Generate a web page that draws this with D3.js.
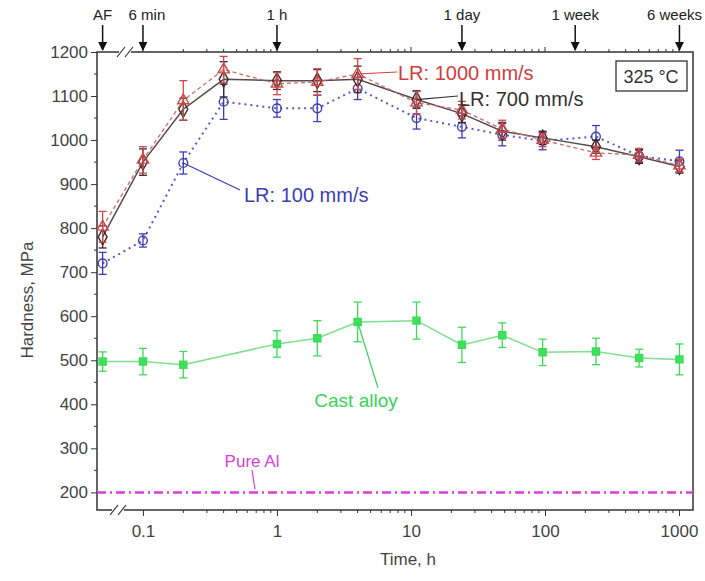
<!DOCTYPE html>
<html>
<head>
<meta charset="utf-8">
<script src="https://cdn.jsdelivr.net/npm/d3@7"></script>
<style>
  body { margin: 0; background: #fff; }
  svg { font-family: "Liberation Sans", Arial, sans-serif; }
</style>
</head>
<body>
<svg id="chart" width="705" height="581"></svg>
<script>
// time in hours; AF (as-fabricated) is drawn at 0.05 h, inside the axis break
const times = [0.05, 0.1, 0.2, 0.4, 1, 2, 4, 11, 24, 48, 96, 240, 504, 1008];
const castTimes = [0.05, 0.1, 0.2, 1, 2, 4, 11, 24, 48, 96, 240, 504, 1008];

const lr1000 = [803, 955, 1090, 1160, 1128, 1132, 1150, 1085, 1068, 1025, 1000, 971, 966, 942];
const lr1000Err = [35, 30, 45, 30, 25, 30, 35, 25, 20, 20, 15, 15, 15, 15];
const lr700 = [780, 950, 1070, 1138, 1135, 1135, 1138, 1092, 1060, 1020, 1005, 985, 962, 940];
const lr700Err = [25, 30, 25, 40, 20, 25, 30, 20, 20, 20, 15, 15, 15, 15];
const lr100 = [720, 772, 948, 1087, 1072, 1072, 1117, 1050, 1030, 1012, 998, 1008, 964, 952];
const lr100Err = [25, 15, 25, 40, 20, 30, 25, 25, 25, 25, 20, 25, 15, 25];
const cast = [497, 497, 490, 537, 550, 587, 590, 535, 557, 518, 520, 505, 502];
const castErr = [22, 30, 30, 30, 40, 45, 42, 40, 28, 30, 30, 20, 35];
const pureAl = 200;

const xTicks = [0.1, 1, 10, 100, 1000];
const yTicks = [200, 300, 400, 500, 600, 700, 800, 900, 1000, 1100, 1200];
const topMarks = [
  { t: 0.05, label: "AF" },
  { t: 0.1, label: "6 min" },
  { t: 1, label: "1 h" },
  { t: 24, label: "1 day" },
  { t: 168, label: "1 week" },
  { t: 1008, label: "6 weeks" }
];

const svg = d3.select("#chart");
const pLeft = 97, pRight = 693, pTop = 52, pBottom = 510;

const x = d3.scaleLog().domain([0.0454, 1272]).range([pLeft, pRight]);
const y = d3.scaleLinear().domain([160, 1200]).range([pBottom, pTop]);

// arrow head
svg.append("defs").append("marker")
  .attr("id", "arr")
  .attr("viewBox", "0 0 10 10")
  .attr("refX", 9).attr("refY", 5)
  .attr("markerWidth", 6).attr("markerHeight", 6)
  .attr("orient", "auto")
  .append("path").attr("d", "M0,0 L10,5 L0,10 z").attr("fill", "#111");

// minor log ticks from 0.1 to the right edge
const minor = [];
for (let d = 0.1; d <= 1000; d *= 10) {
  for (let k = 2; k <= 9; k++) {
    const v = d * k;
    if (v <= x.domain()[1]) minor.push(v);
  }
}

// bottom axis
const xAxis = d3.axisBottom(x).tickValues(xTicks).tickSize(6)
  .tickFormat(d => d < 1 ? "0.1" : d3.format("d")(d));
svg.append("g").attr("transform", `translate(0,${pBottom})`).call(xAxis)
  .call(g => g.select(".domain").remove())
  .call(g => g.selectAll("text").attr("font-size", 17).attr("fill", "#444").attr("dy", "1.05em"))
  .call(g => g.selectAll("line").attr("stroke", "#333"));
svg.append("g").selectAll("line").data(minor).join("line")
  .attr("x1", d => x(d)).attr("x2", d => x(d))
  .attr("y1", pBottom).attr("y2", pBottom + 3)
  .attr("stroke", "#333");

// top axis ticks (outward, no labels)
svg.append("g").selectAll("line").data(xTicks.concat(minor)).join("line")
  .attr("x1", d => x(d)).attr("x2", d => x(d))
  .attr("y1", pTop).attr("y2", d => xTicks.includes(d) ? pTop - 5 : pTop - 3)
  .attr("stroke", "#333");

// left axis
const yAxis = d3.axisLeft(y).tickValues(yTicks).tickSize(6).tickFormat(d3.format("d"));
svg.append("g").attr("transform", `translate(${pLeft},0)`).call(yAxis)
  .call(g => g.select(".domain").remove())
  .call(g => g.selectAll("text").attr("font-size", 17).attr("fill", "#444"))
  .call(g => g.selectAll("line").attr("stroke", "#333"));
svg.append("g").selectAll("line").data(d3.range(250, 1200, 100)).join("line")
  .attr("x1", pLeft - 3).attr("x2", pLeft)
  .attr("y1", d => y(d)).attr("y2", d => y(d))
  .attr("stroke", "#333");

// frame
svg.append("rect")
  .attr("x", pLeft).attr("y", pTop)
  .attr("width", pRight - pLeft).attr("height", pBottom - pTop)
  .attr("fill", "none").attr("stroke", "#333").attr("stroke-width", 1.5);

// axis breaks
function axisBreak(cx, cy) {
  const g = svg.append("g");
  g.append("rect").attr("x", cx - 6).attr("y", cy - 2).attr("width", 12).attr("height", 4).attr("fill", "#fff");
  [-4, 4].forEach(o => {
    g.append("line")
      .attr("x1", cx + o - 4).attr("y1", cy + 5)
      .attr("x2", cx + o + 4).attr("y2", cy - 5)
      .attr("stroke", "#333").attr("stroke-width", 1.2);
  });
}
axisBreak(125, pTop);
axisBreak(118, pBottom);

// pure Al reference line
svg.append("line")
  .attr("x1", pLeft).attr("x2", pRight)
  .attr("y1", y(pureAl)).attr("y2", y(pureAl))
  .attr("stroke", "#d63fd6").attr("stroke-width", 2.5)
  .attr("stroke-dasharray", "9,4,2,4");

function series(ts, vals, errs, opt) {
  const pts = ts.map((t, i) => ({ t: t, v: vals[i], e: errs[i] }));
  const g = svg.append("g");
  g.append("path").datum(pts)
    .attr("d", d3.line().x(d => x(d.t)).y(d => y(d.v)))
    .attr("fill", "none").attr("stroke", opt.line)
    .attr("stroke-width", opt.lw || 1.5)
    .attr("stroke-dasharray", opt.dash || null);
  const eb = g.selectAll("g.eb").data(pts).join("g").attr("stroke", opt.color).attr("stroke-width", 1.3);
  eb.append("line").attr("x1", d => x(d.t)).attr("x2", d => x(d.t))
    .attr("y1", d => y(d.v - d.e)).attr("y2", d => y(d.v + d.e));
  eb.append("line").attr("x1", d => x(d.t) - 4).attr("x2", d => x(d.t) + 4)
    .attr("y1", d => y(d.v + d.e)).attr("y2", d => y(d.v + d.e));
  eb.append("line").attr("x1", d => x(d.t) - 4).attr("x2", d => x(d.t) + 4)
    .attr("y1", d => y(d.v - d.e)).attr("y2", d => y(d.v - d.e));
  g.selectAll("path.m").data(pts).join("path")
    .attr("class", "m")
    .attr("transform", d => `translate(${x(d.t)},${y(d.v)})`)
    .attr("d", d3.symbol().type(opt.symbol).size(opt.size))
    .attr("fill", opt.fill).attr("stroke", opt.color).attr("stroke-width", 1.4);
}

series(times, lr100, lr100Err, { color: "#3d3db5", line: "#5a5ac0", dash: "2,4", lw: 2, symbol: d3.symbolCircle, size: 60, fill: "none" });
series(times, lr700, lr700Err, { color: "#3a2a2a", line: "#5a4a4a", symbol: d3.symbolDiamond, size: 70, fill: "none" });
series(times, lr1000, lr1000Err, { color: "#d04848", line: "#c07070", dash: "4,3", lw: 1.3, symbol: d3.symbolTriangle, size: 55, fill: "none" });
series(castTimes, cast, castErr, { color: "#3fd95a", line: "#7fe08e", symbol: d3.symbolSquare, size: 50, fill: "#3fe05c" });

// annotations with leader lines
function note(px, py, lx, ly, text, tx, ty, color, size, anchor) {
  svg.append("line").attr("x1", px).attr("y1", py).attr("x2", lx).attr("y2", ly)
    .attr("stroke", color).attr("stroke-width", 1.2);
  svg.append("text").attr("x", tx).attr("y", ty).attr("fill", color)
    .attr("font-size", size).attr("text-anchor", anchor || "start").text(text);
}
note(x(4), y(lr1000[6]), 397, 72, "LR: 1000 mm/s", 398, 80, "#d04040", 20);
note(x(11), y(lr700[7]), 458, 96, "LR: 700 mm/s", 459, 106, "#333", 20);
note(x(0.2), y(lr100[2]), 240, 190, "LR: 100 mm/s", 244, 202, "#3d3db5", 20);
note(x(4), y(cast[5]), 378, 388, "Cast alloy", 356, 407, "#3ad356", 19, "middle");
note(255, y(pureAl) - 3, 252, 470, "Pure Al", 252, 467, "#d63fd6", 17, "middle");

// temperature box
svg.append("rect").attr("x", 616).attr("y", 61).attr("width", 71).attr("height", 30)
  .attr("fill", "#fff").attr("stroke", "#333").attr("stroke-width", 1.3);
svg.append("text").attr("x", 651).attr("y", 83).attr("text-anchor", "middle")
  .attr("font-size", 18).attr("fill", "#333").text("325 °C");

// top time markers
const tm = svg.append("g").selectAll("g").data(topMarks).join("g");
tm.append("line")
  .attr("x1", d => x(d.t)).attr("x2", d => x(d.t))
  .attr("y1", 25).attr("y2", pTop - 2)
  .attr("stroke", "#111").attr("stroke-width", 1.5)
  .attr("marker-end", "url(#arr)");
tm.append("text")
  .attr("x", d => d.label === "6 min" ? x(d.t) + 4 : d.label === "6 weeks" ? 702 : x(d.t))
  .attr("y", 20)
  .attr("text-anchor", d => d.label === "6 weeks" ? "end" : "middle")
  .attr("font-size", 15).attr("fill", "#222").text(d => d.label);

// axis titles
svg.append("text").attr("transform", "translate(33,300) rotate(-90)")
  .attr("text-anchor", "middle").attr("font-size", 17).attr("fill", "#444")
  .text("Hardness, MPa");
svg.append("text").attr("x", 408).attr("y", 565).attr("text-anchor", "middle")
  .attr("font-size", 17).attr("fill", "#444").text("Time, h");
</script>
</body>
</html>
